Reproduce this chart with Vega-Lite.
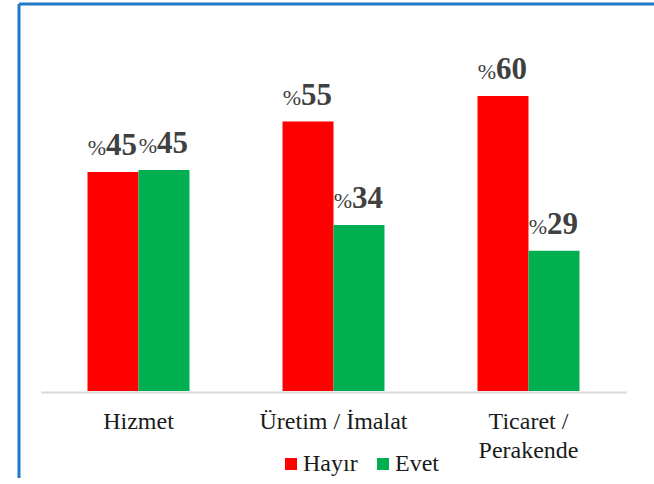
{
  "$schema": "https://vega.github.io/schema/vega-lite/v6.json",
  "usermeta": {"embedOptions": {"actions": false}},
  "width": 635,
  "height": 474,
  "autosize": "none",
  "padding": {"left": 19, "top": 4, "right": 0, "bottom": 0},
  "background": "white",
  "view": {"stroke": "#1f78c8", "strokeWidth": 3, "strokeDash": [635, 1109, 474, 0]},
  "data": {
    "values": [
      {"category": "Hizmet", "series": "Hayır", "value": 44.7},
      {"category": "Hizmet", "series": "Evet", "value": 45.1},
      {"category": "Üretim / İmalat", "series": "Hayır", "value": 55.0},
      {"category": "Üretim / İmalat", "series": "Evet", "value": 33.9},
      {"category": "Ticaret / Perakende", "series": "Hayır", "value": 60.2},
      {"category": "Ticaret / Perakende", "series": "Evet", "value": 28.6}
    ]
  },
  "encoding": {
    "x": {
      "field": "category",
      "type": "nominal",
      "sort": ["Hizmet", "Üretim / İmalat", "Ticaret / Perakende"],
      "scale": {"range": [22, 607], "paddingInner": 0.477, "paddingOuter": 0.2385},
      "axis": {
        "title": null,
        "orient": "bottom",
        "offset": -86,
        "domainColor": "#d9d9d9",
        "domainWidth": 2,
        "ticks": false,
        "grid": false,
        "labelFont": "Liberation Serif",
        "labelFontSize": 24,
        "labelColor": "#1a1a1a",
        "labelPadding": 17,
        "labelAngle": 0,
        "labelLimit": 0,
        "labelLineHeight": 29.5,
        "labelExpr": "datum.label == 'Ticaret / Perakende' ? ['Ticaret /', 'Perakende'] : datum.label"
      }
    },
    "xOffset": {"field": "series", "sort": ["Hayır", "Evet"]},
    "y": {
      "field": "value",
      "type": "quantitative",
      "scale": {"domain": [-17.755, 78.98], "nice": false, "zero": false},
      "axis": null
    }
  },
  "layer": [
    {
      "mark": {"type": "bar"},
      "encoding": {
        "y2": {"datum": 0},
        "color": {
          "field": "series",
          "type": "nominal",
          "scale": {"domain": ["Hayır", "Evet"], "range": ["#ff0000", "#00b050"]},
          "legend": {
            "title": null,
            "orient": "none",
            "legendX": 260,
            "legendY": 448,
            "direction": "horizontal",
            "symbolType": "square",
            "symbolSize": 144,
            "symbolStrokeWidth": 0,
            "symbolOpacity": 1,
            "labelFont": "Liberation Serif",
            "labelFontSize": 24,
            "labelColor": "#1a1a1a",
            "labelOffset": 0,
            "columnPadding": 13,
            "padding": 0
          }
        }
      }
    },
    {
      "mark": {"type": "text", "align": "right", "baseline": "alphabetic", "dx": -7, "dy": -17, "font": "Liberation Serif", "fontSize": 22, "color": "#404040"},
      "encoding": {"text": {"value": "%"}}
    },
    {
      "mark": {"type": "text", "align": "left", "baseline": "alphabetic", "dx": -7, "dy": -17, "font": "Liberation Serif", "fontWeight": "bold", "fontSize": 31, "color": "#404040"},
      "encoding": {"text": {"field": "value", "type": "quantitative", "format": ".0f"}}
    }
  ]
}
